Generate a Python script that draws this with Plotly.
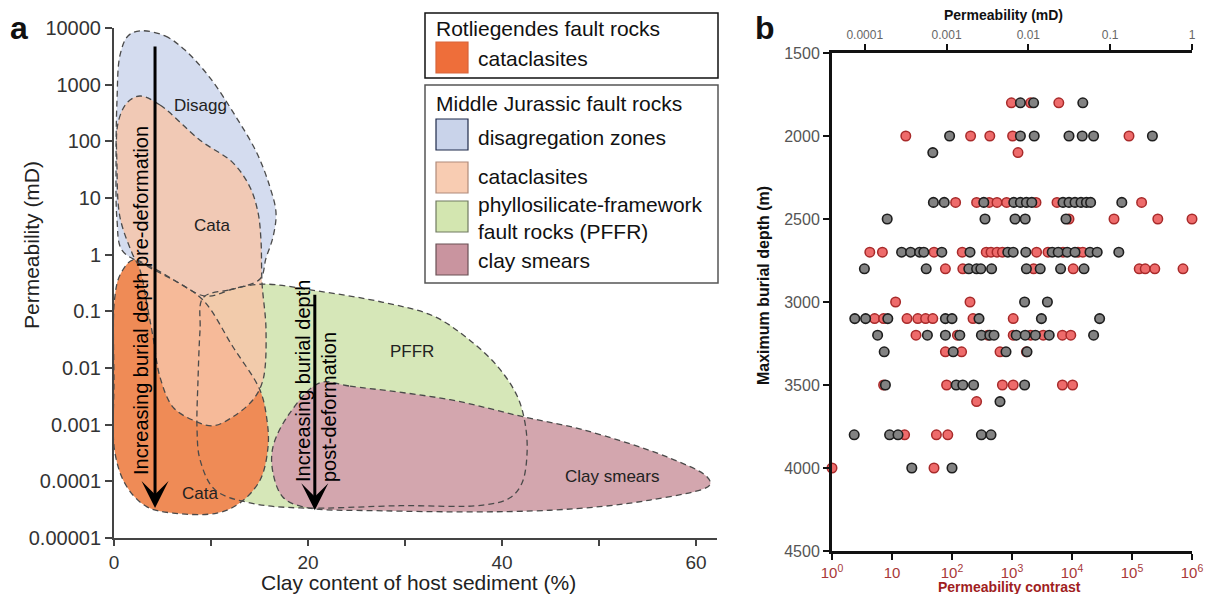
import plotly.graph_objects as go

W, H = 1215, 594
FONT = "Liberation Sans, Arial, Helvetica, sans-serif"

# ---------------- Panel a data ----------------
clay_tickvals = [0, 10, 20, 30, 40, 50, 60]
clay_ticktext = ["0", "", "20", "", "40", "", "60"]
perm_tickvals = [1e-5, 1e-4, 1e-3, 1e-2, 1e-1, 1, 10, 100, 1000, 10000]
perm_ticktext = ["0.00001", "0.0001", "0.001", "0.01", "0.1", "1", "10", "100", "1000", "10000"]

# region outlines: clay content (%) and log10 permeability (mD)
disagg_clay = [2.68, 5.26, 7.32, 9.90, 12.47, 14.74, 16.08, 16.70, 16.39, 15.67, 15.05,
               12.16, 9.38, 6.29, 3.20, 0.82, 0.31, 0.21, 0.31, 0.62, 1.44]
disagg_logk = [3.95, 3.86, 3.61, 3.12, 2.46, 1.79, 1.19, 0.74, 0.31, -0.06, -0.43,
               -0.61, -0.73, -0.46, -0.18, 0.08, 0.61, 1.67, 2.73, 3.52, 3.86]

mj_cata_clay = [2.68, 4.74, 8.87, 12.27, 14.02, 14.85, 15.15, 15.26, 15.67, 15.36, 14.33, 12.27,
                10.21, 8.14, 6.08, 4.74, 4.02, 3.51, 2.68, 1.86, 0.62, 0.31, 0.41, 1.34]
mj_cata_logk = [2.80, 2.64, 2.02, 1.62, 1.19, 0.74, 0.26, -0.50, -1.33, -2.21, -2.56, -2.86,
                -3.02, -2.92, -2.69, -2.16, -1.45, -0.98, -0.27, 0.03, 0.66, 1.55, 2.32, 2.68]

rot_cata_clay = [1.96, 3.40, 6.29, 9.18, 12.27, 15.05, 15.77, 15.88, 15.05, 12.99, 10.62, 6.08,
                 3.40, 1.34, 0.10, 0.0, 0.05, 0.62]
rot_cata_logk = [-0.09, -0.18, -0.46, -0.80, -1.63, -2.39, -2.92, -3.39, -3.98, -4.38, -4.56, -4.56,
                 -4.45, -4.10, -3.50, -2.21, -0.80, -0.36]

pffr_clay = [9.18, 11.96, 15.26, 20.93, 27.73, 32.89, 36.39, 39.48, 41.55, 42.37, 42.58,
             42.06, 40.82, 38.04, 29.48, 19.18, 14.02, 10.41, 8.87, 8.56, 8.66, 8.87]
pffr_logk = [-0.76, -0.62, -0.52, -0.64, -0.84, -1.08, -1.47, -1.96, -2.49, -2.97, -3.50,
             -4.03, -4.29, -4.42, -4.43, -4.47, -4.38, -4.15, -3.62, -3.09, -2.21, -1.33]

smear_clay = [21.24, 24.33, 34.64, 42.16, 48.35, 57.01, 61.13, 61.44, 55.26, 44.95, 27.73,
              19.48, 17.42, 16.39, 16.39, 18.14]
smear_logk = [-2.26, -2.32, -2.56, -2.86, -3.09, -3.57, -3.92, -4.06, -4.33, -4.51, -4.52,
              -4.45, -4.28, -3.85, -3.39, -2.79]

# ---------------- Panel b data ----------------
depth_tickvals = [1500, 2000, 2500, 3000, 3500, 4000, 4500]
perm_top_tickvals = [1e-4, 1e-3, 1e-2, 1e-1, 1]
perm_top_ticktext = ["0.0001", "0.001", "0.01", "0.1", "1"]
contrast_tickvals = [1, 10, 100, 1e3, 1e4, 1e5, 1e6]
contrast_ticktext = ["10<sup>0</sup>", "10", "10<sup>2</sup>", "10<sup>3</sup>",
                     "10<sup>4</sup>", "10<sup>5</sup>", "10<sup>6</sup>"]

# log10(permeability contrast) per maximum burial depth (m)
red_log_contrast = {
    1800: [2.99, 3.31, 3.78],
    2000: [1.23, 2.31, 2.63, 3.01, 4.95],
    2100: [3.10],
    2400: [2.06, 2.41, 2.62, 2.75, 2.91, 3.40, 3.75, 5.16],
    2500: [3.95, 4.70, 5.43, 6.0],
    2700: [0.63, 0.84, 1.70, 2.17, 2.57, 2.65, 2.75, 2.84, 3.41, 3.60, 3.85, 4.10, 4.18],
    2800: [1.89, 2.18, 3.36, 4.02, 5.12, 5.22, 5.38, 5.85],
    3000: [1.06, 2.30],
    3100: [0.71, 0.86, 1.25, 1.43, 1.56, 1.68, 2.35, 3.02],
    3200: [1.40, 2.09, 2.60, 3.02, 3.31, 3.52, 3.84, 3.98],
    3300: [1.89, 2.16, 2.80, 3.24],
    3500: [0.86, 1.91, 2.84, 3.02, 3.84, 4.01],
    3600: [2.41],
    3800: [1.21, 1.74, 1.93],
    4000: [0.0, 1.70],
}
grey_log_contrast = {
    1800: [3.14, 3.36, 4.18],
    2000: [1.96, 3.14, 3.37, 3.95, 4.17, 4.36, 5.34],
    2100: [1.68],
    2400: [1.69, 1.87, 2.53, 3.03, 3.14, 3.24, 3.33, 3.85, 3.95, 4.05, 4.15, 4.24, 4.31, 4.83],
    2500: [0.92, 2.55, 3.05, 3.22, 3.90],
    2700: [1.16, 1.31, 1.46, 1.53, 1.83, 2.30, 2.93, 3.02, 3.23, 3.67, 3.77, 3.92, 4.05, 4.30, 4.42, 4.78],
    2800: [0.54, 1.57, 2.28, 2.41, 2.48, 2.66, 3.24, 3.47, 3.81, 4.20],
    3000: [3.21, 3.59],
    3100: [0.38, 0.56, 0.93, 1.89, 2.00, 2.45, 3.49, 4.46],
    3200: [0.76, 1.59, 1.89, 2.13, 2.49, 2.63, 2.70, 3.07, 3.22, 3.39, 3.62, 4.36],
    3300: [0.87, 2.02, 2.90, 3.25],
    3500: [0.89, 2.07, 2.18, 2.36, 3.21],
    3600: [2.80],
    3800: [0.37, 0.96, 1.10, 2.49, 2.65],
    4000: [1.33, 2.00],
}


def px(x):
    return x / W


def py(y):
    return 1 - y / H


def closed(seq):
    return list(seq) + [seq[0]]


fig = go.Figure()

# ---- region fills (drawing order matters) ----
regions = [
    (disagg_clay, disagg_logk, "rgba(212,220,239,1)", "Disagg"),
    (pffr_clay, pffr_logk, "rgba(214,231,184,1)", "PFFR"),
    (smear_clay, smear_logk, "rgba(211,166,174,1)", "Clay smears"),
    (rot_cata_clay, rot_cata_logk, "rgba(239,139,86,1)", "Rotliegendes cataclasites"),
    (mj_cata_clay, mj_cata_logk, "rgba(248,196,168,0.82)", "Middle Jurassic cataclasites"),
]
for cx, lk, col, name in regions:
    fig.add_trace(go.Scatter(
        x=closed(cx), y=[10 ** v for v in closed(lk)], mode="lines",
        line=dict(shape="spline", smoothing=1.0, width=0, color=col),
        fill="toself", fillcolor=col, name=name, hoverinfo="skip",
        showlegend=False, xaxis="x", yaxis="y"))
for cx, lk, col, name in regions:
    fig.add_trace(go.Scatter(
        x=closed(cx), y=[10 ** v for v in closed(lk)], mode="lines",
        line=dict(shape="spline", smoothing=1.0, width=1.3, color="#4a4a4a", dash="6px,4px"),
        hoverinfo="skip", showlegend=False, xaxis="x", yaxis="y"))

# ---- panel b scatter ----
def flatten(rows):
    xs, ys = [], []
    for d, vals in rows.items():
        for v in vals:
            xs.append(10 ** v)
            ys.append(d)
    return xs, ys

rx, ry = flatten(red_log_contrast)
gx, gy = flatten(grey_log_contrast)
fig.add_trace(go.Scatter(x=rx, y=ry, mode="markers", cliponaxis=False,
                         marker=dict(size=9.5, color="#ee6b6b", line=dict(color="#a82a2a", width=1.5)),
                         showlegend=False, xaxis="x2", yaxis="y2", name="red"))
fig.add_trace(go.Scatter(x=gx, y=gy, mode="markers", cliponaxis=False,
                         marker=dict(size=9.5, color="#828282", line=dict(color="#1e1e1e", width=1.6)),
                         showlegend=False, xaxis="x2", yaxis="y2", name="grey"))
# dummy trace for top permeability axis
fig.add_trace(go.Scatter(x=[1e-4], y=[1500], mode="markers", marker=dict(opacity=0),
                         hoverinfo="skip", showlegend=False, xaxis="x3", yaxis="y2"))

axis_a = dict(showline=True, linecolor="#444", linewidth=2, ticks="outside",
              tickwidth=2, tickcolor="#444", showgrid=False, zeroline=False, automargin=False)
axis_b = dict(showline=True, linecolor="#111", linewidth=3, ticks="outside", ticklen=6,
              tickwidth=2, tickcolor="#111", showgrid=False, zeroline=False, automargin=False)

fig.update_layout(
    width=W, height=H, template="none",
    margin=dict(l=0, r=0, t=0, b=0),
    paper_bgcolor="white", plot_bgcolor="rgba(0,0,0,0)",
    font=dict(family=FONT, color="#222"),
    xaxis=dict(domain=[px(114), px(717)], range=[0, 62.16], anchor="y", ticklen=6,
               tickvals=clay_tickvals, ticktext=clay_ticktext,
               tickfont=dict(size=19, color="#333", family=FONT), **axis_a),
    yaxis=dict(domain=[py(538), py(28)], type="log", range=[-5, 4], anchor="x", ticklen=7,
               tickvals=perm_tickvals, ticktext=perm_ticktext,
               tickfont=dict(size=20, color="#333", family=FONT), **axis_a),
    xaxis2=dict(domain=[px(832), px(1192)], type="log", range=[0, 6], anchor="y2",
                tickvals=contrast_tickvals, ticktext=contrast_ticktext,
                tickfont=dict(size=15, color="#a83838", family=FONT), **axis_b),
    xaxis3=dict(domain=[px(832), px(1192)], type="log", range=[-4.4, 0], anchor="y2",
                overlaying="x2", side="top", tickvals=perm_top_tickvals, ticktext=perm_top_ticktext,
                tickfont=dict(size=12, color="#666", family=FONT), **axis_b),
    yaxis2=dict(domain=[py(551), py(53)], range=[4500, 1500], anchor="x2",
                tickvals=depth_tickvals, tickfont=dict(size=16, color="#555", family=FONT), **axis_b),
)

ann = []


def label(text, x, y, size, color="#222", angle=0, xanchor="center", align="center"):
    ann.append(dict(text=text, x=px(x), y=py(y), xref="paper", yref="paper", showarrow=False,
                    xanchor=xanchor, yanchor="middle", textangle=angle, align=align,
                    font=dict(size=size, color=color)))


# axis titles
label("Clay content of host sediment (%)", 418, 582, 21)
label("Permeability (mD)", 32, 245, 21, angle=-90)
label("<b>Permeability (mD)</b>", 1004, 15, 14, "#111")
label("<b>Permeability contrast</b>", 1009, 587, 14, "#a01e1e")
label("<b>Maximum burial depth (m)</b>", 764, 286, 16, "#111", angle=-90)
# panel labels
label("<b>a</b>", 19, 28, 32, "#111")
label("<b>b</b>", 765, 28, 32, "#111")

# region labels (data coords, log10 for y)
for t, x, y in [("Disagg", 8.87, 2.64), ("Cata", 10.1, 0.52), ("Cata", 8.87, -4.21),
                ("PFFR", 30.7, -1.70), ("Clay smears", 51.3, -3.92)]:
    ann.append(dict(text=t, x=x, y=y, xref="x", yref="y", showarrow=False,
                    xanchor="center", yanchor="middle", font=dict(size=17, color="#222")))
# burial arrows
ann.append(dict(x=4.23, y=-4.47, ax=4.23, ay=3.70, xref="x", yref="y", axref="x", ayref="y",
                showarrow=True, arrowhead=3, arrowsize=1.5, arrowwidth=3, arrowcolor="#000", text=""))
ann.append(dict(x=20.7, y=-4.51, ax=20.7, ay=-0.68, xref="x", yref="y", axref="x", ayref="y",
                showarrow=True, arrowhead=3, arrowsize=1.5, arrowwidth=3, arrowcolor="#000", text=""))
label("Increasing burial depth pre-deformation", 141, 301, 20, "#000", angle=-90)
label("Increasing burial depth<br>post-deformation", 316, 381, 20, "#000", angle=-90, align="left")

# legend boxes
shapes = [
    dict(type="rect", xref="paper", yref="paper", x0=px(425), y0=py(13), x1=px(718), y1=py(78),
         line=dict(color="#111", width=1.5), fillcolor="white"),
    dict(type="rect", xref="paper", yref="paper", x0=px(425), y0=py(85), x1=px(718), y1=py(283),
         line=dict(color="#555", width=1.5), fillcolor="white"),
]
legend_items = [
    (42, "#ee6e3a", "#d8643a", "cataclasites", 58),
    (119, "#c9d3ea", "#1f2a4a", "disagregation zones", 137),
    (162, "#f8ccb2", "#b08a7a", "cataclasites", 176),
    (201, "#d3e6b0", "#707a60", "phyllosilicate-framework<br>fault rocks (PFFR)", 218),
    (244, "#c9949f", "#6a5055", "clay smears", 260),
]
for top, fc, lc, text, ty in legend_items:
    shapes.append(dict(type="rect", xref="paper", yref="paper", x0=px(436), y0=py(top),
                       x1=px(468), y1=py(top + 31), line=dict(color=lc, width=1.2), fillcolor=fc))
    label(text, 476, ty, 21, "#111", xanchor="left", align="left")
label("Rotliegendes fault rocks", 434, 28, 21, "#111", xanchor="left", align="left")
label("Middle Jurassic fault rocks", 434, 103, 21, "#111", xanchor="left", align="left")

fig.update_layout(annotations=ann, shapes=shapes)
fig.write_html("out.html")
